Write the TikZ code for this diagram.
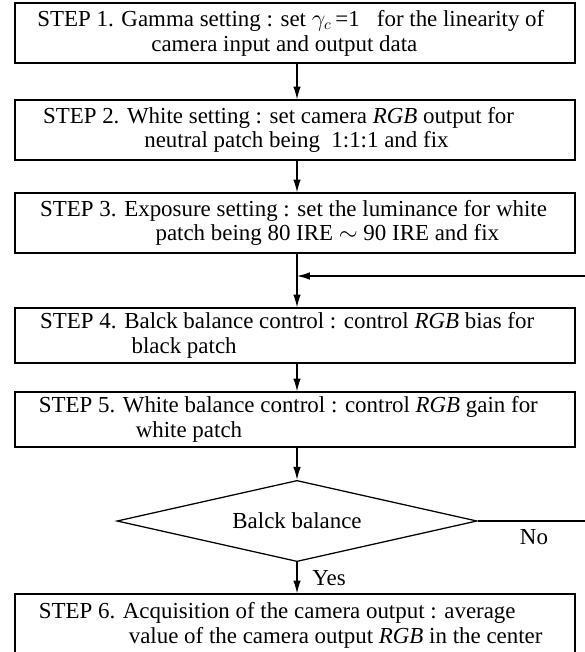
\documentclass[tikz,border=0pt]{standalone}
\usepackage{fontspec}
\setmainfont{Liberation Serif}
\usetikzlibrary{shapes.geometric,positioning,arrows.meta}

\tikzset{
  stepbox/.style={draw, line width=0.9pt, text width=14cm, inner xsep=0pt, inner ysep=0pt,
    align=flush left, font=\fontsize{16.3}{17.6}\selectfont},
  testbox/.style={draw, shape=diamond, line width=0.9pt, inner sep=0pt, aspect=4.4,
    minimum width=9cm, minimum height=2.03cm, font=\fontsize{16.3}{17.6}\selectfont},
  flow/.style={line width=0.9pt, -{Latex[length=3.2mm,width=1.9mm]}},
  tag/.style={font=\fontsize{16.3}{17.6}\selectfont, inner sep=0pt}
}

\begin{document}
\begin{tikzpicture}[x=0.025cm, y=-0.025cm]
  \useasboundingbox (0,0) rectangle (585,652);
  \clip (0,0) rectangle (585,652);

  % the six steps, one under the other
  \node[stepbox, minimum height=1.5cm] (S1) at (295,33)
    {\hspace*{16pt}STEP 1. Gamma setting : set $\gamma_c$\,=1 \ \ for the linearity of\\
     \hspace*{97pt}camera input and output data};
  \node[stepbox, minimum height=1.5cm] (S2) at (295,130)
    {\hspace*{20pt}STEP 2. White setting : set camera \textit{RGB} output for\\
     \hspace*{92pt}neutral patch being \ 1:1:1 and fix};
  \node[stepbox, minimum height=1.5cm] (S3) at (295,223)
    {\hspace*{18pt}STEP 3. Exposure setting : set the luminance for white\\
     \hspace*{100pt}patch being 80 IRE $\sim$ 90 IRE and fix};
  \node[stepbox, minimum height=1.375cm] (S4) at (295,335.5)
    {\hspace*{18pt}STEP 4. Balck balance control : control \textit{RGB} bias for\\
     \hspace*{83pt}black patch};
  \node[stepbox, minimum height=1.375cm] (S5) at (295,419.5)
    {\hspace*{17pt}STEP 5. White balance control : control \textit{RGB} gain for\\
     \hspace*{86pt}white patch};
  \node[testbox] (T) at (297,521) {Balck balance};
  \node[stepbox, minimum height=1.55cm] (S6) at (295,625)
    {\hspace*{17pt}STEP 6. Acquisition of the camera output : average\\
     \hspace*{81pt}value of the camera output \textit{RGB} in the center};

  % loop back from the test into step 4
  \coordinate (J) at (297,276);
  \coordinate (R1) at (600,521);
  \coordinate (R2) at (600,276);

  \draw[flow] (S1.south -| J) -- (S2.north -| J);
  \draw[flow] (S2.south -| J) -- (S3.north -| J);
  \draw[flow] (S3.south -| J) -- (S4.north -| J);
  \draw[flow] (S4.south -| J) -- (S5.north -| J);
  \draw[flow] (S5.south -| J) -- (T.north);
  \draw[flow] (T.south) -- (S6.north -| J);
  \draw[line width=0.9pt] (T.east) -- (R1) -- (R2);
  \draw[flow] (R2) -- (J);

  \node[tag] (no) at (534,537) {No};
  \node[tag] (yes) at (329,578) {Yes};
\end{tikzpicture}
\end{document}
